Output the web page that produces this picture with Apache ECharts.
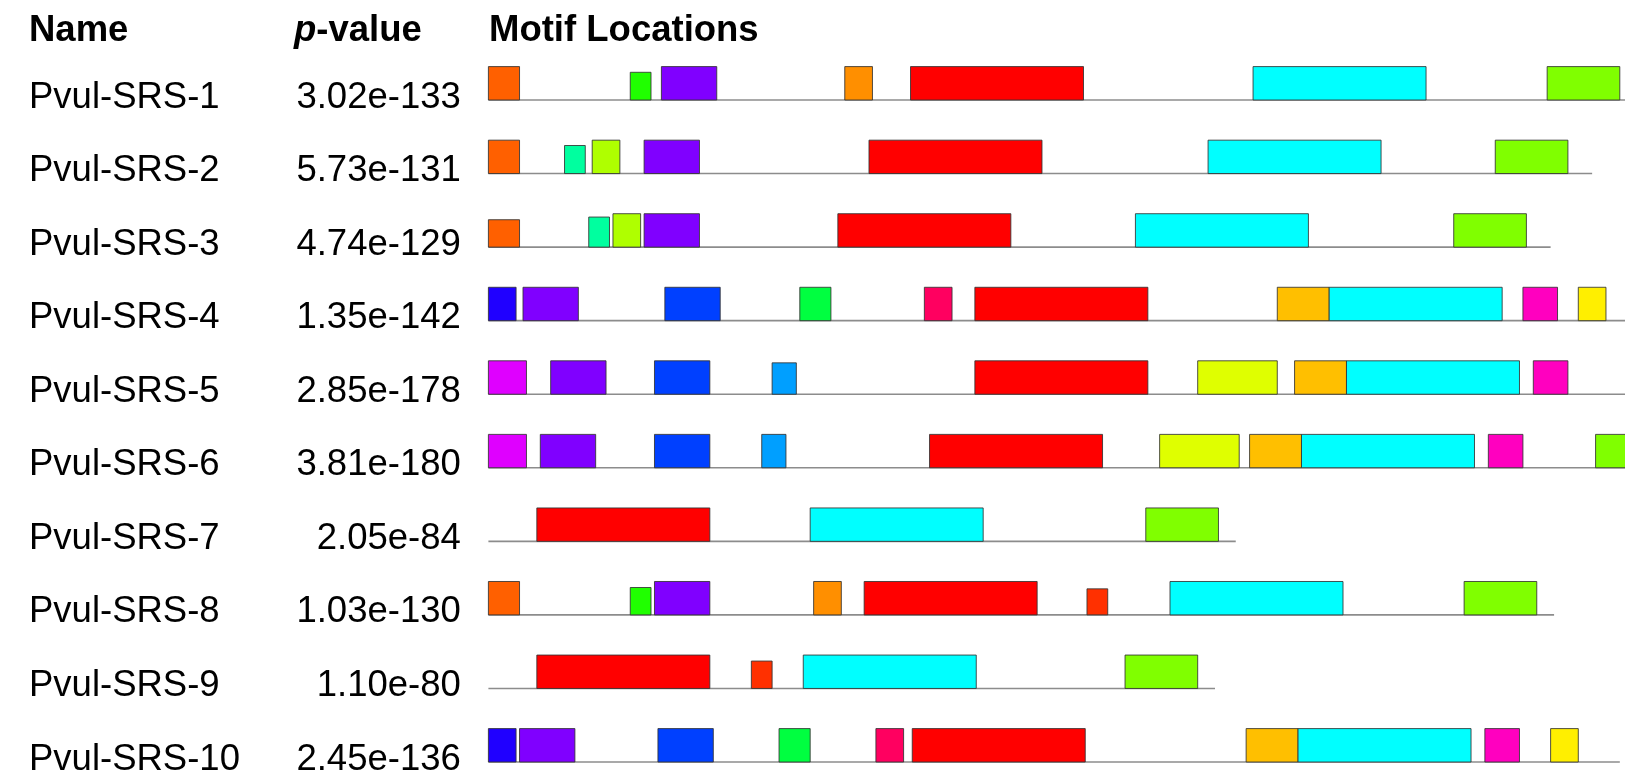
<!DOCTYPE html>
<html>
<head>
<meta charset="utf-8">
<script src="https://cdn.jsdelivr.net/npm/echarts@6/dist/echarts.min.js"></script>
<style>
  html, body { margin: 0; padding: 0; background: #ffffff; }
  #chart { width: 1625px; height: 773px; }
</style>
</head>
<body>
<div id="chart"></div>
<script>
// ---- data ----
const names = ['Pvul-SRS-1', 'Pvul-SRS-2', 'Pvul-SRS-3', 'Pvul-SRS-4', 'Pvul-SRS-5',
               'Pvul-SRS-6', 'Pvul-SRS-7', 'Pvul-SRS-8', 'Pvul-SRS-9', 'Pvul-SRS-10'];
const pValues = ['3.02e-133', '5.73e-131', '4.74e-129', '1.35e-142', '2.85e-178',
                 '3.81e-180', '2.05e-84', '1.03e-130', '1.10e-80', '2.45e-136'];
const seqLengths = [345, 319, 307, 345, 345, 345, 216, 308, 210, 327];
// motif widths (residues), motif 1..20
const motifWidths = [50, 50, 21, 16, 15, 9, 16, 10, 9, 23, 6, 6, 7, 8, 11, 8, 6, 8, 8, 8];
// sites per sequence: [motif, start, relative site strength]
const srs1  = [[9, 0, 1], [11, 41, 0.83], [4, 50, 1], [18, 103, 1], [1, 122, 1], [2, 221, 1], [3, 306, 1]];
const srs2  = [[9, 0, 1], [12, 22, 0.84], [20, 30, 1], [4, 45, 1], [1, 110, 1], [2, 208, 1], [3, 291, 1]];
const srs3  = [[9, 0, 0.82], [12, 29, 0.9], [20, 36, 1], [4, 45, 1], [1, 101, 1], [2, 187, 1], [3, 279, 1]];
const srs4  = [[14, 0, 1], [4, 10, 1], [7, 51, 1], [6, 90, 1], [16, 126, 1], [1, 140.6, 1], [5, 228, 1], [2, 243, 1], [8, 299, 1], [19, 315, 1]];
const srs5  = [[15, 0, 1], [4, 18, 1], [7, 48, 1], [13, 82, 0.94], [1, 140.6, 1], [10, 205, 1], [5, 233, 1], [2, 248, 1], [8, 302, 1]];
const srs6  = [[15, 0, 1], [4, 15, 1], [7, 48, 1], [13, 79, 1], [1, 127.5, 1], [10, 194, 1], [5, 220, 1], [2, 235, 1], [8, 289, 1], [3, 320, 1]];
const srs7  = [[1, 14, 1], [2, 93, 1], [3, 190, 1]];
const srs8  = [[9, 0, 1], [11, 41, 0.82], [4, 48, 1], [18, 94, 1], [1, 108.6, 1], [17, 173, 0.78], [2, 197, 1], [3, 282, 1]];
const srs9  = [[1, 14, 1], [17, 76, 0.82], [2, 91, 1], [3, 184, 1]];
const srs10 = [[14, 0, 1], [4, 9, 1], [7, 49, 1], [6, 84, 1], [16, 112, 1], [1, 122.5, 1], [5, 219, 1], [2, 234, 1], [8, 288, 1], [19, 307, 1]];
const sites = [srs1, srs2, srs3, srs4, srs5, srs6, srs7, srs8, srs9, srs10];

// ---- styles ----
const motifColors = ['#FF0000', '#00FFFF', '#80FF00', '#8000FF', '#FFBF00', '#00FF40', '#0040FF', '#FF00BF',
                     '#FF6000', '#DFFF00', '#20FF00', '#00FF9F', '#009FFF', '#2000FF', '#DF00FF', '#FF0060',
                     '#FF3000', '#FF8F00', '#FFEF00', '#AFFF00'];
const FONT = '"Liberation Sans", Arial, Helvetica, sans-serif';
const FS = 36.5;

const lineData = seqLengths.map((len, r) => [0, r, len]);
const boxData = [];
sites.forEach((list, r) => {
  list.forEach(s => {
    boxData.push([s[1], r, s[1] + motifWidths[s[0] - 1], s[0], s[2]]);
  });
});

const headStyle = { fontFamily: FONT, fontSize: FS, fontWeight: 'bold', color: '#000', lineHeight: 40 };

const chart = echarts.init(document.getElementById('chart'), null, { renderer: 'canvas' });
chart.setOption({
  animation: false,
  backgroundColor: '#ffffff',
  title: [
    { text: 'Name', left: 29, top: 11, padding: 0, textStyle: headStyle },
    { text: '{i|p}{b|-value}', left: 294, top: 11, padding: 0,
      textStyle: Object.assign({}, headStyle, {
        rich: {
          i: Object.assign({}, headStyle, { fontStyle: 'italic' }),
          b: Object.assign({}, headStyle)
        } }) },
    { text: 'Motif Locations', left: 489, top: 11, padding: 0, textStyle: headStyle }
  ],
  grid: { left: 488.4, right: 0, top: 100, height: 662, containLabel: false, outerBoundsMode: 'none' },
  xAxis: { type: 'value', min: 0, max: 328.5, show: false },
  yAxis: [
    { type: 'category', data: names, inverse: true, position: 'left', boundaryGap: false,
      axisLine: { show: false }, axisTick: { show: false }, splitLine: { show: false },
      axisLabel: { show: true, interval: 0, align: 'left', margin: 459.4, fontSize: FS, fontFamily: FONT, color: '#000',
        verticalAlign: 'bottom', lineHeight: 5 } },
    { type: 'category', data: pValues, inverse: true, position: 'left', boundaryGap: false,
      axisLine: { show: false }, axisTick: { show: false }, splitLine: { show: false },
      axisLabel: { show: true, interval: 0, align: 'right', margin: 27.6, fontSize: FS, fontFamily: FONT, color: '#000',
        verticalAlign: 'bottom', lineHeight: 5 } }
  ],
  series: [
    {
      type: 'custom', name: 'sequence', yAxisIndex: 0, clip: false,
      encode: { x: [0, 2], y: 1 },
      data: lineData,
      renderItem: function (params, api) {
        const a = api.coord([api.value(0), api.value(1)]);
        const b = api.coord([api.value(2), api.value(1)]);
        return {
          type: 'line',
          shape: { x1: a[0], y1: a[1], x2: b[0], y2: b[1] },
          style: { stroke: '#8c8c8c', lineWidth: 1.6 }
        };
      }
    },
    {
      type: 'custom', name: 'motifs', yAxisIndex: 0, clip: false,
      encode: { x: [0, 2], y: 1 },
      data: boxData,
      renderItem: function (params, api) {
        const a = api.coord([api.value(0), api.value(1)]);
        const b = api.coord([api.value(2), api.value(1)]);
        const band = Math.abs(api.coord([0, 1])[1] - api.coord([0, 0])[1]);
        const h = band * 0.454 * api.value(4);
        return {
          type: 'rect',
          shape: { x: a[0], y: a[1] - h, width: b[0] - a[0], height: h },
          style: { fill: motifColors[api.value(3) - 1], stroke: 'rgba(50,50,50,0.85)', lineWidth: 1 }
        };
      }
    }
  ]
});
</script>
</body>
</html>
